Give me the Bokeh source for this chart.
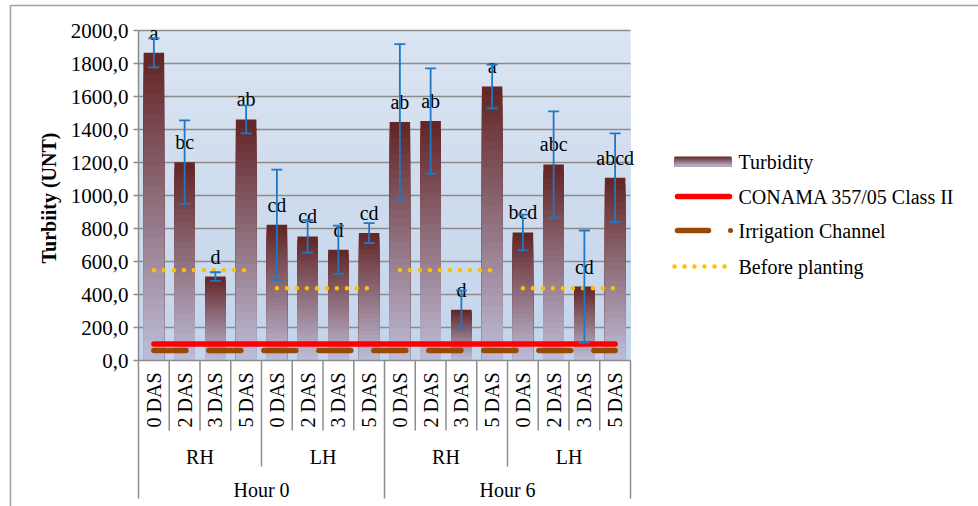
import math
from bokeh.plotting import figure
from bokeh.models import (Range1d, LinearAxis, FixedTicker, CustomJSTickFormatter,
                          ColumnDataSource, Whisker, TeeHead)
from bokeh.core.properties import value
from bokeh.embed import file_html
from bokeh.resources import INLINE

# ---------------- data ----------------
hours = ["Hour 0", "Hour 6"]
sides = ["RH", "LH"]
days = ["0 DAS", "2 DAS", "3 DAS", "5 DAS"]
turbidity = [1865, 1202, 509, 1461, 822, 752, 671, 772,
             1445, 1451, 307, 1661, 776, 1188, 448, 1107]
std_error = [88, 253, 26, 85, 335, 98, 147, 60,
             472, 320, 117, 133, 108, 322, 340, 269]
letters = ["a", "bc", "d", "ab", "cd", "cd", "d", "cd",
           "ab", "ab", "d", "a", "bcd", "abc", "cd", "abcd"]
conama_limit = 100
irrigation_channel = 60
before_planting = [547, 438, 547, 438]          # one value per (hour, side) group
y_ticks = [0, 200, 400, 600, 800, 1000, 1200, 1400, 1600, 1800, 2000]
legend_labels = ["Turbidity", "CONAMA 357/05 Class II", "Irrigation Channel", "Before planting"]
y_title = "Turbiity  (UNT)"

# ---------------- layout constants (page pixels) ----------------
W, H = 978, 506
PAGE = 0
PLOT_L, PLOT_T, PLOT_B = 138.0, 30.0, 360.0
CAT_W = 30.75
YMAX = y_ticks[-1]
PPU = (PLOT_B - PLOT_T) / YMAX
FONT = value("Liberation Serif")

def dx(px):
    return (px - PLOT_L) / CAT_W

def dy(py):
    return (PLOT_B - py) / PPU

def mix(c0, c1, f):
    return "#%02x%02x%02x" % tuple(int(round(a + (b - a) * f)) for a, b in zip(c0, c1))

cats = [(h, s, d) for h in hours for s in sides for d in days]
N = len(cats)
xc = [i + 0.5 for i in range(N)]

p = figure(width=W, height=H, x_range=Range1d(dx(PAGE), dx(PAGE + W)),
           y_range=Range1d(dy(PAGE + H), dy(PAGE)),
           output_backend="svg", toolbar_location=None,
           x_axis_type=None, y_axis_type=None, min_border=0)
p.outline_line_color = None
p.background_fill_color = "white"
p.border_fill_color = "white"

GRAY = "#8c8c8c"

# outer chart border (top and left)
p.segment(x0=[dx(10), dx(10)], y0=[dy(5), dy(5)], x1=[dx(978), dx(10)], y1=[dy(5), dy(506)],
          line_color="#a0a0a0", line_width=1.5)

# plot area background gradient
BG_TOP = (0xDB, 0xE4, 0xF1)
BG_BOT = (0xC3, 0xD4, 0xEB)
nb = 40
p.quad(left=[0] * nb, right=[N] * nb, bottom=[0] * nb,
       top=[YMAX * (nb - k) / nb for k in range(nb)],
       fill_color=[mix(BG_BOT, BG_TOP, (nb - k - 0.5) / nb) for k in range(nb)],
       line_color=None)

# gridlines
gt = y_ticks[1:]
p.segment(x0=[0] * len(gt), x1=[N] * len(gt), y0=gt, y1=gt, line_color=GRAY, line_width=1.6)

# gradient bars
BAR_TOP = (0x62, 0x23, 0x23)
BAR_BOT = (0xBE, 0xBE, 0xDA)
ns = 30
bx, btop, bcol = [], [], []
for i, v in enumerate(turbidity):
    for k in range(ns):
        bx.append(xc[i])
        btop.append(v * (ns - k) / ns)
        bcol.append(mix(BAR_BOT, BAR_TOP, (ns - k - 0.5) / ns))
p.vbar(x=bx, width=0.667, bottom=0, top=btop, fill_color=bcol, line_color=None)

# reference lines
p.line([xc[0], xc[-1]], [conama_limit] * 2, line_color="#ff0000", line_width=5.5, line_cap="round")
p.line([xc[0], xc[-1]], [irrigation_channel] * 2, line_color="#984807", line_width=5.5,
       line_cap="round", line_dash="32 23")
group_keys = [(h, s) for h in hours for s in sides]
gxs, gys = [], []
for g, key in enumerate(group_keys):
    idx = [i for i, c in enumerate(cats) if (c[0], c[1]) == key]
    gxs.append([xc[idx[0]], xc[idx[-1]]])
    gys.append([before_planting[g]] * 2)
p.multi_line(xs=gxs, ys=gys, line_color="#ffc000", line_width=4.5, line_dash="0 10", line_cap="round")

# error bars
src = ColumnDataSource(dict(x=xc, upper=[v + e for v, e in zip(turbidity, std_error)],
                            lower=[v - e for v, e in zip(turbidity, std_error)]))
EB = "#1f78c4"
w = Whisker(source=src, base="x", upper="upper", lower="lower", line_color=EB, line_width=1.8,
            upper_head=TeeHead(size=11, line_color=EB, line_width=1.8),
            lower_head=TeeHead(size=11, line_color=EB, line_width=1.8), level="overlay")
p.add_layout(w)

# significance letters
p.text(x=xc, y=[v + 20 / PPU for v in turbidity], text=letters, text_align="center",
       text_baseline="middle", text_font=FONT, text_font_size="20px", text_color="black")

# y axis
yaxis = LinearAxis(fixed_location=0, ticker=FixedTicker(ticks=y_ticks),
                   formatter=CustomJSTickFormatter(code="return tick.toFixed(1).replace('.', ',');"),
                   bounds=(0, YMAX), major_tick_out=5, major_tick_in=0,
                   minor_tick_line_color=None, axis_line_color=GRAY, axis_line_width=1.5,
                   major_tick_line_color=GRAY, major_tick_line_width=1.5,
                   major_label_text_font="Liberation Serif", major_label_text_font_size="21px",
                   major_label_standoff=5, major_label_text_color="black")
p.add_layout(yaxis, "left")

p.text(x=[dx(48)], y=[(dy(PLOT_T) + dy(PLOT_B)) / 2], text=[y_title], angle=math.pi / 2,
       text_align="center", text_baseline="middle", text_font=FONT, text_font_size="20px",
       text_font_style="bold", text_color="black")

# category table below the plot area
p.segment(x0=[0], x1=[N], y0=[0], y1=[0], line_color=GRAY, line_width=1.5)
vx, vb = [], []
for k in range(N + 1):
    if k == 0 or k == N or cats[k - 1][0] != cats[k][0]:
        bottom = dy(498)
    elif cats[k - 1][1] != cats[k][1]:
        bottom = dy(466)
    else:
        bottom = dy(430)
    vx.append(k)
    vb.append(bottom)
p.segment(x0=vx, x1=vx, y0=[0] * len(vx), y1=vb, line_color=GRAY, line_width=1.5)

p.text(x=xc, y=[dy(372)] * N, text=[c[2] for c in cats], angle=math.pi / 2,
       text_align="right", text_baseline="middle", text_font=FONT, text_font_size="20px",
       text_color="black")
sx, st = [], []
for key in group_keys:
    idx = [i for i, c in enumerate(cats) if (c[0], c[1]) == key]
    sx.append(sum(xc[i] for i in idx) / len(idx))
    st.append(key[1])
p.text(x=sx, y=[dy(456)] * len(sx), text=st, text_align="center", text_baseline="middle",
       text_font=FONT, text_font_size="20px", text_color="black")
hx = []
for h in hours:
    idx = [i for i, c in enumerate(cats) if c[0] == h]
    hx.append(sum(xc[i] for i in idx) / len(idx))
p.text(x=hx, y=[dy(489)] * len(hx), text=hours, text_align="center", text_baseline="middle",
       text_font=FONT, text_font_size="20px", text_color="black")

# legend (drawn by hand)
LY = [161, 196, 230, 266]
nl = 10
p.quad(left=[dx(674)] * nl, right=[dx(731)] * nl, bottom=[dy(166)] * nl,
       top=[dy(166 - 10 * (nl - k) / nl) for k in range(nl)],
       fill_color=[mix(BAR_BOT, BAR_TOP, (nl - k - 0.5) / nl) for k in range(nl)], line_color=None)
p.line([dx(677), dx(729)], [dy(LY[1])] * 2, line_color="#ff0000", line_width=5.5, line_cap="round")
p.line([dx(677), dx(708)], [dy(LY[2])] * 2, line_color="#984807", line_width=5.5, line_cap="round")
p.scatter(x=[dx(730)], y=[dy(LY[2])], size=5, fill_color="#984807", line_color=None)
p.line([dx(674), dx(725)], [dy(LY[3])] * 2, line_color="#ffc000", line_width=4.5,
       line_dash="0 10", line_cap="round")
p.text(x=[dx(738)] * 4, y=[dy(v) for v in LY], text=legend_labels, text_align="left",
       text_baseline="middle", text_font=FONT, text_font_size="20px", text_color="black")

open("out.html", "w").write(file_html(p, INLINE))
